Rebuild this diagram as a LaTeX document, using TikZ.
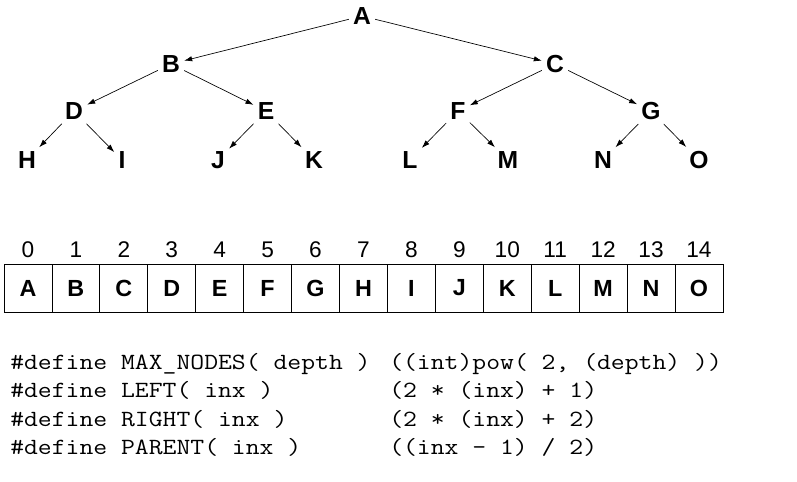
\documentclass[tikz,border=0pt]{standalone}
\usepackage{fontspec}
\setmainfont{Liberation Sans}
\newfontfamily\codefont[FakeStretch=1.16]{Latin Modern Mono}
\usetikzlibrary{arrows.meta}
\tikzset{
  treenode/.style={font=\fontsize{18.5}{18.5}\selectfont\bfseries, inner sep=3pt},
  treearrow/.style={-{Latex[length=6pt,width=4pt]}, line width=0.5pt},
  cell/.style={draw, line width=0.6pt, minimum width=35.95pt, minimum height=36pt, inner sep=0pt, font=\fontsize{17.5}{17.5}\selectfont\bfseries},
  index/.style={font=\fontsize{17}{17}\selectfont, inner sep=0pt},
  codeline/.style={font=\codefont\fontsize{17.4}{17.4}\selectfont, inner sep=0pt, anchor=base west},
}
\begin{document}
\begin{tikzpicture}[x=0.75pt,y=0.75pt,yscale=-1,xscale=1]
\useasboundingbox (0,0) rectangle (797,482);

% Tree nodes
\node[treenode] (A) at (362,16) {A};
\node[treenode] (B) at (171,64) {B};
\node[treenode] (C) at (555,64) {C};
\node[treenode] (D) at (74,111) {D};
\node[treenode] (E) at (266,111) {E};
\node[treenode] (F) at (458,111) {F};
\node[treenode] (G) at (651,111) {G};
\node[treenode] (H) at (27,160) {H};
\node[treenode] (I) at (122,160) {I};
\node[treenode] (J) at (218,160) {J};
\node[treenode] (K) at (314,160) {K};
\node[treenode] (L) at (410,160) {L};
\node[treenode] (M) at (508,160) {M};
\node[treenode] (N) at (603,160) {N};
\node[treenode] (O) at (699,160) {O};

% Tree arrows
\draw[treearrow] (A) -- (B);
\draw[treearrow] (A) -- (C);
\draw[treearrow] (B) -- (D);
\draw[treearrow] (B) -- (E);
\draw[treearrow] (C) -- (F);
\draw[treearrow] (C) -- (G);
\draw[treearrow] (D) -- (H);
\draw[treearrow] (D) -- (I);
\draw[treearrow] (E) -- (J);
\draw[treearrow] (E) -- (K);
\draw[treearrow] (F) -- (L);
\draw[treearrow] (F) -- (M);
\draw[treearrow] (G) -- (N);
\draw[treearrow] (G) -- (O);

% Array indices
\node[index] (i0) at (27.97,249.5) {0};
\node[index] (i1) at (75.9,249.5) {1};
\node[index] (i2) at (123.83,249.5) {2};
\node[index] (i3) at (171.76,249.5) {3};
\node[index] (i4) at (219.69,249.5) {4};
\node[index] (i5) at (267.62,249.5) {5};
\node[index] (i6) at (315.55,249.5) {6};
\node[index] (i7) at (363.48,249.5) {7};
\node[index] (i8) at (411.41,249.5) {8};
\node[index] (i9) at (459.34,249.5) {9};
\node[index] (i10) at (507.27,249.5) {10};
\node[index] (i11) at (555.2,249.5) {11};
\node[index] (i12) at (603.13,249.5) {12};
\node[index] (i13) at (651.06,249.5) {13};
\node[index] (i14) at (698.99,249.5) {14};

% Array cells
\node[cell] (a0) at (27.97,288) {A};
\node[cell] (a1) at (75.9,288) {B};
\node[cell] (a2) at (123.83,288) {C};
\node[cell] (a3) at (171.76,288) {D};
\node[cell] (a4) at (219.69,288) {E};
\node[cell] (a5) at (267.62,288) {F};
\node[cell] (a6) at (315.55,288) {G};
\node[cell] (a7) at (363.48,288) {H};
\node[cell] (a8) at (411.41,288) {I};
\node[cell] (a9) at (459.34,288) {J};
\node[cell] (a10) at (507.27,288) {K};
\node[cell] (a11) at (555.2,288) {L};
\node[cell] (a12) at (603.13,288) {M};
\node[cell] (a13) at (651.06,288) {N};
\node[cell] (a14) at (698.99,288) {O};

% Macro definitions
\node[codeline] (maxname) at (10,369) {\#define MAX\_NODES( depth )};
\node[codeline] (maxbody) at (389,369) {((int)pow( 2, (depth) ))};
\node[codeline] (leftname) at (10,397.5) {\#define LEFT( inx )};
\node[codeline] (leftbody) at (389,397.5) {(2 * (inx) + 1)};
\node[codeline] (rightname) at (10,426) {\#define RIGHT( inx )};
\node[codeline] (rightbody) at (389,426) {(2 * (inx) + 2)};
\node[codeline] (parentname) at (10,454.5) {\#define PARENT( inx )};
\node[codeline] (parentbody) at (389,454.5) {((inx - 1) / 2)};

\end{tikzpicture}
\end{document}
